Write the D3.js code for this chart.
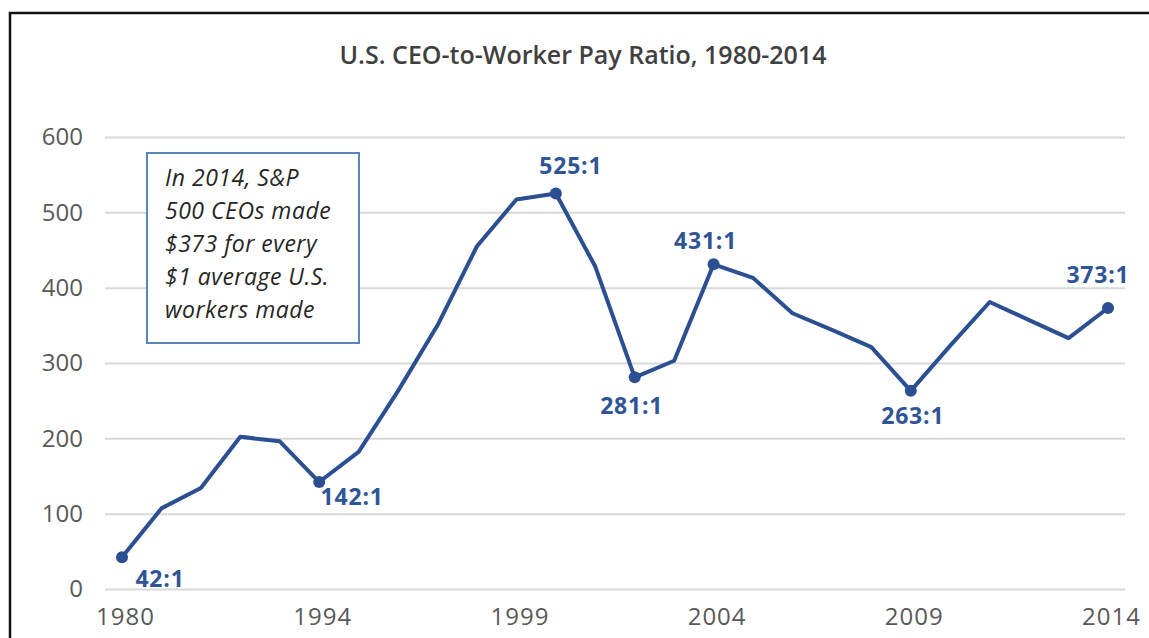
<!DOCTYPE html>
<html>
<head>
<meta charset="utf-8">
<script src="https://cdn.jsdelivr.net/npm/d3@7"></script>
<style>
  body { margin: 0; background: #fff; }
  svg { display: block; }
</style>
</head>
<body>
<div id="chart-area"></div>
<script>
// data
var years  = ["1980", "1990", "1991", "1992", "1993", "1994", "1995", "1996", "1997",
              "1998", "1999", "2000", "2001", "2002", "2003", "2004", "2005", "2006",
              "2007", "2008", "2009", "2010", "2011", "2012", "2013", "2014"];
var ratios = [42, 107, 134, 202, 196, 142, 182, 263, 350,
              455, 517, 525, 428, 281, 303, 431, 413, 366,
              344, 321, 263, 323, 381, 357, 333, 373];
var xTickYears = ["1980", "1994", "1999", "2004", "2009", "2014"];
var yTicks     = [0, 100, 200, 300, 400, 500, 600];
var markedYears  = ["1980", "1994", "2000", "2002", "2004", "2009", "2014"];
var markedLabels = ["42:1", "142:1", "525:1", "281:1", "431:1", "263:1", "373:1"];
var title = "U.S. CEO-to-Worker Pay Ratio, 1980-2014";
var noteLines = ["In 2014, S&P", "500 CEOs made", "$373 for every", "$1 average U.S.", "workers made"];

var svgWidth = 1149, svgHeight = 638;
var margin = { top: 137, left: 105, bottom: 49, right: 24 };

var lineColor  = "#2b4f91";
var labelColor = "#2f5597";
var tickColor  = "#595959";
var font = "'Open Sans', sans-serif";

var svg = d3.select("#chart-area")
            .append("svg")
            .attr("width", svgWidth)
            .attr("height", svgHeight);

// frame (top + left edge of the original screenshot)
svg.append("path")
   .attr("d", "M10,638 V13 H1149")
   .attr("fill", "none")
   .attr("stroke", "#111")
   .attr("stroke-width", 2.5);

var plotLeft = margin.left, plotRight = svgWidth - margin.right;

var x = d3.scalePoint()
          .domain(years)
          .range([122, 1108]);

var y = d3.scaleLinear()
          .domain([0, 600])
          .range([589, 137]);

// title
svg.append("text")
   .attr("x", 583)
   .attr("y", 64)
   .attr("text-anchor", "middle")
   .attr("font-family", font)
   .attr("font-size", "25px")
   .attr("font-weight", 600)
   .attr("fill", "#404040")
   .text(title);

// grid + y labels
var yAxisCall = d3.axisLeft(y)
                  .tickValues(yTicks)
                  .tickSize(-(plotRight - plotLeft))
                  .tickPadding(22);

var yAxis = svg.append("g")
               .attr("class", "y-axis")
               .attr("transform", "translate(" + plotLeft + ",0)")
               .call(yAxisCall);
yAxis.select(".domain").remove();
yAxis.selectAll("line")
     .attr("stroke", "#d9d9d9")
     .attr("stroke-width", 2);
yAxis.selectAll("text")
     .attr("font-family", font)
     .attr("font-size", "24px")
     .attr("fill", tickColor);

// x labels
var xAxisCall = d3.axisBottom(x)
                  .tickValues(xTickYears)
                  .tickSize(0)
                  .tickPadding(19);

var xAxis = svg.append("g")
               .attr("class", "x-axis")
               .attr("transform", "translate(3,589)")
               .call(xAxisCall);
xAxis.select(".domain").remove();
xAxis.selectAll("text")
     .attr("font-family", font)
     .attr("font-size", "24px")
     .attr("letter-spacing", "1px")
     .attr("fill", tickColor);

// note box
var box = svg.append("g").attr("transform", "translate(147,153)");
box.append("rect")
   .attr("width", 212)
   .attr("height", 190)
   .attr("fill", "#fff")
   .attr("stroke", "#5a86bd")
   .attr("stroke-width", 2);
box.selectAll("text.note")
   .data(noteLines)
   .enter()
   .append("text")
   .attr("class", "note")
   .attr("x", 18)
   .attr("y", (d, i) => 33 + i * 33)
   .attr("font-family", font)
   .attr("font-size", "23px")
   .attr("letter-spacing", "0.5px")
   .attr("font-style", "italic")
   .attr("fill", "#262626")
   .text((d) => d);

// line
var series = years.map((d, i) => ({ year: d, value: ratios[i] }));

var line = d3.line()
             .x((d) => x(d.year))
             .y((d) => y(d.value));

svg.append("path")
   .datum(series)
   .attr("fill", "none")
   .attr("stroke", lineColor)
   .attr("stroke-width", 4)
   .attr("stroke-linejoin", "round")
   .attr("d", line);

// marked points and their labels
var labelOffset = {
    "1980": [38, 30], "1994": [33, 23], "2000": [15, -20], "2002": [-3, 37],
    "2004": [-8, -15], "2009": [2, 33], "2014": [-10, -25]
};

var marks = markedYears.map((d, i) => ({ year: d, value: ratios[years.indexOf(d)], label: markedLabels[i] }));

svg.selectAll("circle.mark")
   .data(marks)
   .enter()
   .append("circle")
   .attr("class", "mark")
   .attr("cx", (d) => x(d.year))
   .attr("cy", (d) => y(d.value))
   .attr("r", 6)
   .attr("fill", lineColor);

svg.selectAll("text.mark-label")
   .data(marks)
   .enter()
   .append("text")
   .attr("class", "mark-label")
   .attr("x", (d) => x(d.year) + labelOffset[d.year][0])
   .attr("y", (d) => y(d.value) + labelOffset[d.year][1])
   .attr("text-anchor", "middle")
   .attr("font-family", font)
   .attr("font-size", "23px")
   .attr("letter-spacing", "0.8px")
   .attr("font-weight", "bold")
   .attr("fill", labelColor)
   .text((d) => d.label);
</script>
</body>
</html>
